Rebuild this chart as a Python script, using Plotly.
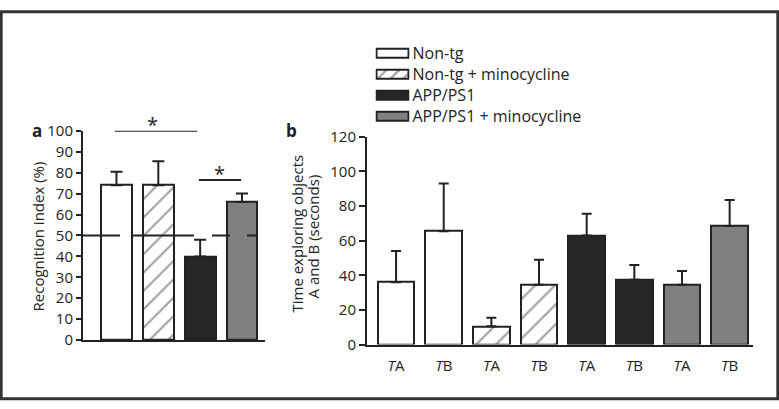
import plotly.graph_objects as go

W, H = 779, 409
FONT = "Open Sans"
INK = "#222222"

# ---- data ----
groups = ["Non-tg", "Non-tg + minocycline", "APP/PS1", "APP/PS1 + minocycline"]
group_colors = ["#ffffff", "#ffffff", "#262626", "#808080"]
group_patterns = ["", "/", "", ""]

# panel a: recognition index (%)
ri_mean = [74, 74, 40, 66]
ri_upper = [80.5, 85.5, 48, 70]
ri_ticks = list(range(0, 101, 10))

# panel b: time exploring objects (s)
b_labels = ["<i>T</i>A", "<i>T</i>B"] * 4
b_group = [0, 0, 1, 1, 2, 2, 3, 3]
b_mean = [36, 65.5, 10.5, 34.5, 63, 37.5, 34.5, 68.5]
b_upper = [54, 93, 15.5, 49, 75.5, 46, 42.5, 83.5]
b_ticks = list(range(0, 121, 20))


def px(x):
    return x / W


def py(y):
    return 1 - y / H


fig = go.Figure()

# panel a
fig.add_trace(go.Bar(
    x=list(range(len(groups))), y=ri_mean, width=0.74,
    marker=dict(color=group_colors, line=dict(color=INK, width=2),
                pattern=dict(shape=group_patterns, fgcolor=INK, bgcolor="#ffffff",
                             size=13, solidity=0.17)),
    error_y=dict(type="data", symmetric=False,
                 array=[u - m for u, m in zip(ri_upper, ri_mean)],
                 arrayminus=[0] * len(ri_mean), color=INK, thickness=2, width=6),
    xaxis="x", yaxis="y", showlegend=False, hoverinfo="skip"))

# panel b
fig.add_trace(go.Bar(
    x=list(range(len(b_mean))), y=b_mean, width=0.77,
    marker=dict(color=[group_colors[g] for g in b_group], line=dict(color=INK, width=2),
                pattern=dict(shape=[group_patterns[g] for g in b_group], fgcolor=INK,
                             bgcolor="#ffffff", size=14, solidity=0.16)),
    error_y=dict(type="data", symmetric=False,
                 array=[u - m for u, m in zip(b_upper, b_mean)],
                 arrayminus=[0] * len(b_mean), color=INK, thickness=2, width=5),
    xaxis="x2", yaxis="y2", showlegend=False, hoverinfo="skip"))

# legend swatches
fig.add_trace(go.Bar(
    y=list(range(len(groups))), x=[1] * len(groups), orientation="h", width=0.42,
    marker=dict(color=group_colors, line=dict(color=INK, width=2),
                pattern=dict(shape=group_patterns, fgcolor=INK, bgcolor="#ffffff",
                             size=9, solidity=0.25)),
    xaxis="x3", yaxis="y3", showlegend=False, hoverinfo="skip"))

tickfont = dict(family=FONT, size=15, color=INK)

fig.update_layout(
    width=W, height=H, margin=dict(l=0, r=0, t=0, b=0),
    paper_bgcolor="white", plot_bgcolor="white",
    font=dict(family=FONT, size=15, color=INK),
    xaxis=dict(domain=[px(83), px(265)], range=[-0.8, 3.55], showticklabels=False,
               ticks="", showline=True, linecolor=INK, linewidth=2, showgrid=False,
               zeroline=False, fixedrange=True),
    yaxis=dict(domain=[py(346), py(126)], range=[0, 100], tickvals=ri_ticks,
               ticks="outside", ticklen=5, tickwidth=2, tickcolor=INK,
               showline=True, linecolor=INK, linewidth=2, showgrid=False,
               zeroline=False, tickfont=tickfont, anchor="x"),
    xaxis2=dict(domain=[px(367), px(753)], range=[-0.61, 7.49],
                tickvals=list(range(len(b_labels))), ticktext=b_labels,
                ticks="", ticklabelstandoff=6, showline=True, linecolor=INK, linewidth=2,
                showgrid=False, zeroline=False, tickfont=tickfont, anchor="y2"),
    yaxis2=dict(domain=[py(350.7), py(132.3)], range=[0, 120], tickvals=b_ticks,
                ticks="outside", ticklen=6, tickwidth=2, tickcolor=INK,
                showline=True, linecolor=INK, linewidth=2, showgrid=False,
                zeroline=False, tickfont=tickfont, anchor="x2"),
    xaxis3=dict(domain=[px(375.5), px(409.5)], range=[-0.04, 1.04], visible=False,
                anchor="y3", fixedrange=True),
    yaxis3=dict(domain=[py(121.9), py(33.4)], range=[3.5, -0.5],
                tickvals=list(range(len(groups))), ticktext=groups, side="right",
                ticks="", showline=False, showgrid=False, zeroline=False,
                tickfont=dict(family=FONT, size=16, color=INK), anchor="x3",
                ticklabelstandoff=2),
    bargap=0,
)

shapes = [
    # whole-figure frame
    dict(type="rect", xref="paper", yref="paper", x0=0.0015, x1=0.9985, y0=0.003, y1=0.998,
         line=dict(color="#333333", width=3)),
    # chance level at 50 %
    dict(type="line", xref="x domain", yref="y", x0=0, x1=1, y0=50, y1=50,
         line=dict(color=INK, width=2, dash="37px,12px,62px,18px,18px,17px,10px,100px")),
    # significance bars
    dict(type="line", xref="x", yref="y", x0=-0.04, x1=1.93, y0=100, y1=100,
         line=dict(color=INK, width=2)),
    dict(type="line", xref="x", yref="y", x0=1.97, x1=2.98, y0=76.5, y1=76.5,
         line=dict(color=INK, width=2)),
]


def note(text, x, y, size=15, angle=0):
    return dict(text=text, x=px(x), y=py(y), xref="paper", yref="paper",
                xanchor="center", yanchor="middle", showarrow=False,
                textangle=angle, font=dict(size=size))


annotations = [
    note("<b>a</b>", 37, 126, 17),
    note("<b>b</b>", 291.5, 126, 17),
    note("Recognition index (%)", 38, 237, 15, -90),
    note("Time exploring objects", 297, 234, 15, -90),
    note("A and B (seconds)", 313, 237, 15, -90),
    note("*", 152, 119, 20),
    note("*", 219, 171, 20),
]

fig.update_layout(shapes=shapes, annotations=annotations)

fig.write_html(
    "out.html",
    config={"displayModeBar": False},
    post_script="document.body.style.margin='0';document.body.style.overflow='hidden';",
)
